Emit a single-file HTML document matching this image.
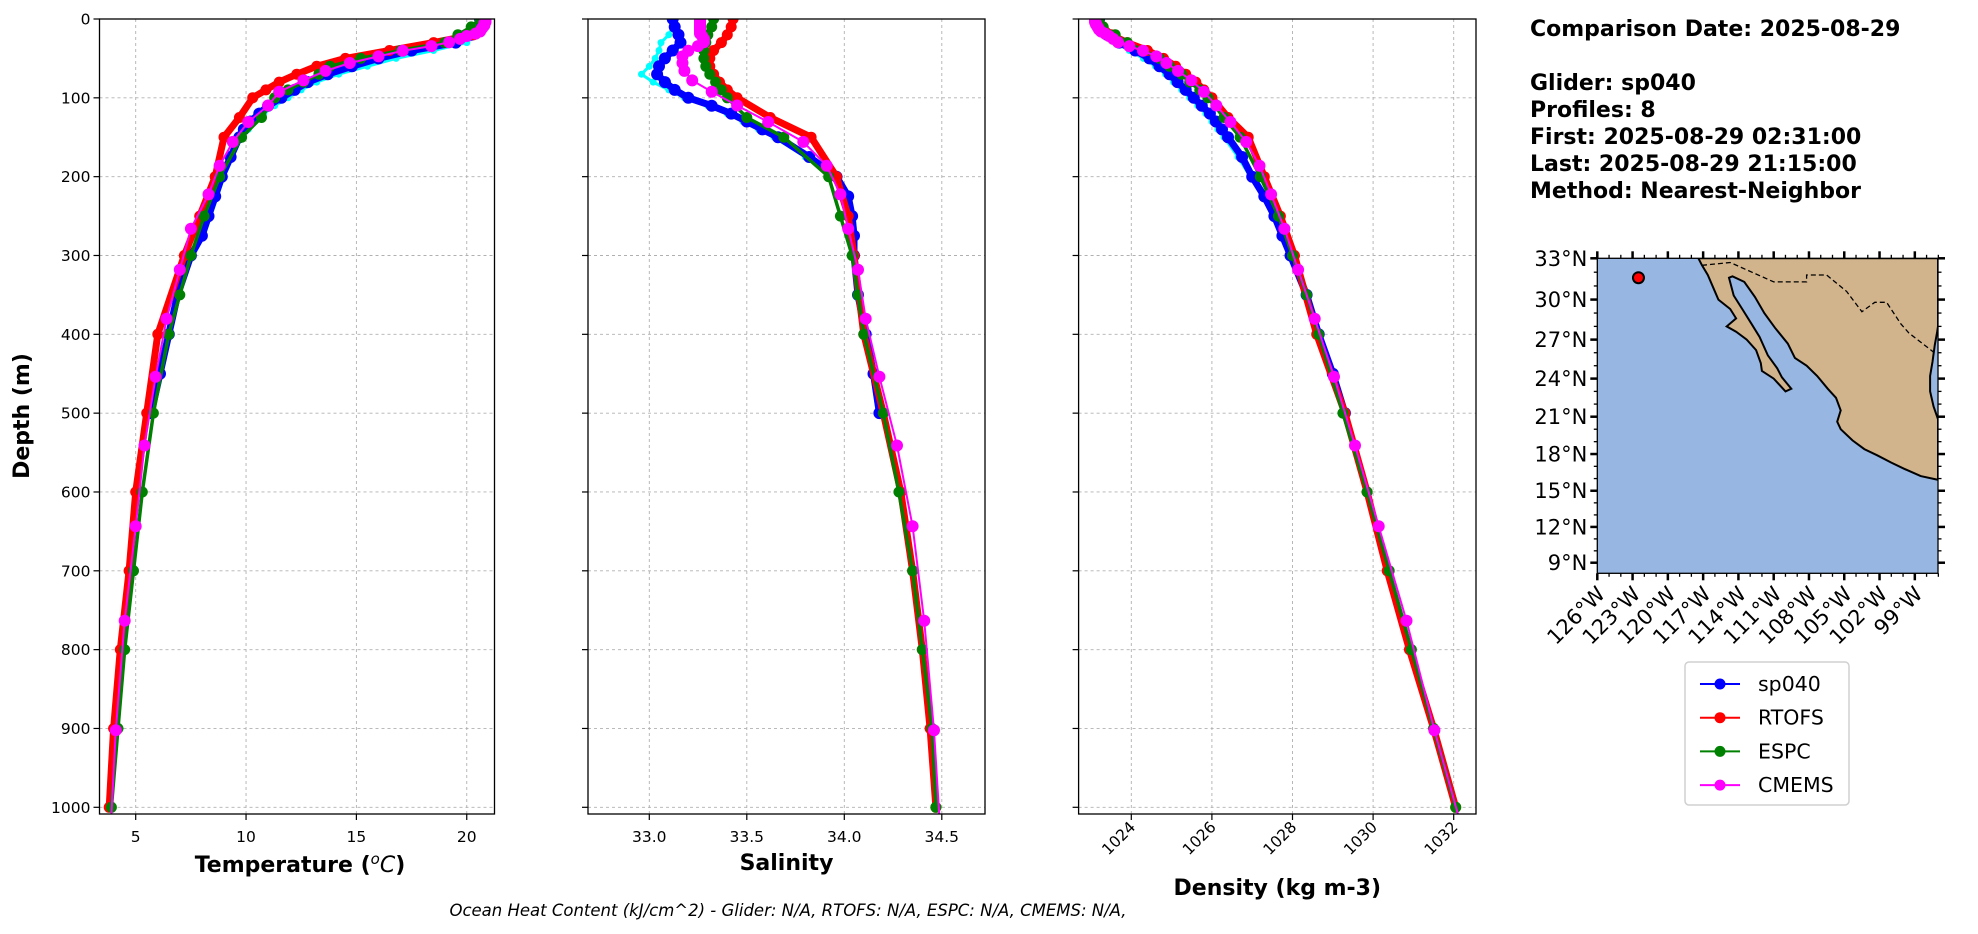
<!DOCTYPE html>
<html><head><meta charset="utf-8"><style>
html,body{margin:0;padding:0;background:#fff;}
svg{display:block;font-family:"DejaVu Sans","Liberation Sans",sans-serif;}
</style></head><body>
<svg id="fig" width="1978" height="934" viewBox="0 0 1978 934" xmlns="http://www.w3.org/2000/svg">
<defs>
<clipPath id="cT"><rect x="99.5" y="19" width="395" height="795"/></clipPath>
<clipPath id="cS"><rect x="588" y="19" width="397" height="795"/></clipPath>
<clipPath id="cD"><rect x="1078.6" y="19" width="397.4" height="795"/></clipPath>
<clipPath id="cM"><rect x="1597.3" y="258.3" width="340.7" height="315"/></clipPath>
</defs>
<g id="panels"></g>
<g id="mapg"></g>
<text x="1530" y="36" font-size="22" font-weight="bold">Comparison Date: 2025-08-29</text>
<text x="1530" y="90" font-size="22" font-weight="bold">Glider: sp040</text>
<text x="1530" y="117" font-size="22" font-weight="bold">Profiles: 8</text>
<text x="1530" y="144" font-size="22" font-weight="bold">First: 2025-08-29 02:31:00</text>
<text x="1530" y="171" font-size="22" font-weight="bold">Last: 2025-08-29 21:15:00</text>
<text x="1530" y="198" font-size="22" font-weight="bold">Method: Nearest-Neighbor</text>
<text x="788" y="916" font-size="16.5" font-style="italic" text-anchor="middle">Ocean Heat Content (kJ/cm^2) - Glider: N/A,  RTOFS: N/A,  ESPC: N/A,  CMEMS: N/A,</text>
<g>
<rect x="1685" y="662" width="164" height="143" rx="4" fill="#fff" stroke="#d0d0d0" stroke-width="1.5"/>
<g id="legItems"></g>
</g>
</svg>
<script>
// ---------- data ----------
const gliderDepths=[0,10,20,30,40,50,60,70,80,90,100,110,120,130,140,150,175,200,225,250,275,300,350,400,450,500];
const gliderTemp=[20.6,20.5,20.2,19.5,17.5,16,14.8,13.7,12.8,12.2,11.6,11.0,10.6,10.2,9.9,9.7,9.3,8.9,8.6,8.3,8.0,7.5,6.9,6.5,6.1,5.7];
const gliderSal=[33.12,33.13,33.15,33.16,33.12,33.08,33.05,33.04,33.08,33.13,33.2,33.32,33.42,33.5,33.58,33.66,33.82,33.96,34.02,34.04,34.05,34.05,34.07,34.11,34.15,34.18];
const gliderDen=[1023.2,1023.25,1023.4,1023.7,1024.1,1024.45,1024.7,1024.95,1025.15,1025.35,1025.55,1025.75,1025.95,1026.1,1026.25,1026.4,1026.75,1027.0,1027.3,1027.55,1027.75,1027.95,1028.35,1028.65,1029.0,1029.3];
const profTemp=[20.7,20.6,20.4,20.0,18.5,16.8,15.5,14.2,13.2,12.5,11.9,11.3,10.8,10.4,10.1,9.8,9.4,9.0,8.7,8.4,8.1,7.6,6.8,6.4,6.0,5.6];
const profSal=[33.13,33.12,33.1,33.06,33.05,33.03,33.0,32.96,33.02,33.1,33.18,33.3,33.4,33.48,33.56,33.64,33.8,33.94,34.02,34.05,34.06,34.06,34.06,34.1,34.14,34.17];
const profDen=[1023.2,1023.2,1023.35,1023.6,1023.95,1024.3,1024.6,1024.85,1025.05,1025.25,1025.45,1025.65,1025.85,1026.0,1026.15,1026.3,1026.65,1026.95,1027.25,1027.5,1027.72,1027.92,1028.32,1028.62,1028.97,1029.28];
const rtofsDepths=[0,10,20,30,40,50,60,70,80,90,100,125,150,200,250,300,400,500,600,700,800,900,1000];
const rtofsTemp=[20.8,20.7,20.3,18.5,16.5,14.5,13.2,12.3,11.5,10.9,10.3,9.7,9.0,8.6,7.9,7.2,6.0,5.5,5.0,4.7,4.3,4.0,3.8];
const rtofsSal=[33.43,33.42,33.4,33.37,33.33,33.31,33.31,33.33,33.36,33.4,33.45,33.62,33.83,33.96,34.02,34.05,34.1,34.2,34.29,34.35,34.4,34.44,34.47];
const rtofsDen=[1023.2,1023.3,1023.5,1023.9,1024.4,1024.8,1025.1,1025.35,1025.6,1025.8,1026.0,1026.4,1026.9,1027.3,1027.7,1028.05,1028.6,1029.3,1029.85,1030.35,1030.9,1031.5,1032.05];
const espcDepths=[0,10,20,30,40,50,60,70,80,90,100,125,150,200,250,300,350,400,500,600,700,800,900,1000];
const espcTemp=[20.6,20.2,19.6,19.0,17.0,15.2,13.8,13.3,12.6,11.9,11.3,10.7,9.8,8.8,8.1,7.5,7.0,6.5,5.8,5.3,4.9,4.5,4.2,3.9];
const espcSal=[33.33,33.32,33.3,33.29,33.28,33.28,33.29,33.31,33.34,33.37,33.40,33.5,33.69,33.92,33.98,34.04,34.07,34.1,34.2,34.28,34.35,34.4,34.45,34.47];
const espcDen=[1023.2,1023.3,1023.6,1023.9,1024.3,1024.7,1024.95,1025.25,1025.45,1025.7,1025.9,1026.3,1026.7,1027.2,1027.65,1028.0,1028.35,1028.65,1029.25,1029.85,1030.4,1030.95,1031.5,1032.05];
const cmemsDepths=[0.5,1.5,2.6,3.8,5.1,6.4,7.9,9.6,11.4,13.5,15.8,18.5,21.6,25.2,29.4,34.4,40.3,47.4,55.8,65.8,77.9,92.3,109.7,130.7,155.9,186.1,222.5,266.0,318.1,380.2,453.9,541.1,643.6,763.3,902.3,1062.4];
const cmemsTemp=[20.85,20.85,20.85,20.85,20.8,20.8,20.8,20.75,20.7,20.65,20.6,20.4,20.0,19.7,19.2,18.4,17.1,16.0,14.7,13.6,12.6,11.5,11.0,10.1,9.4,8.8,8.3,7.5,7.0,6.4,5.9,5.4,5.0,4.5,4.1,3.8];
const cmemsSal=[33.26,33.26,33.26,33.26,33.26,33.26,33.26,33.26,33.26,33.26,33.26,33.26,33.27,33.28,33.28,33.25,33.2,33.17,33.17,33.18,33.22,33.32,33.45,33.61,33.79,33.91,33.98,34.02,34.07,34.11,34.18,34.27,34.35,34.41,34.46,34.5];
const cmemsDen=[1023.1,1023.1,1023.1,1023.1,1023.12,1023.12,1023.14,1023.16,1023.18,1023.2,1023.25,1023.35,1023.45,1023.55,1023.67,1023.95,1024.29,1024.62,1024.87,1025.16,1025.49,1025.8,1026.11,1026.46,1026.85,1027.18,1027.47,1027.8,1028.14,1028.55,1029.03,1029.55,1030.14,1030.83,1031.52,1032.4];
const depthTicks=[0,100,200,300,400,500,600,700,800,900,1000];
const tempTicks=[5,10,15,20];
const salTicks=[33.0,33.5,34.0,34.5];
const denTicks=[1024,1026,1028,1030,1032];
const legendNames=["sp040","RTOFS","ESPC","CMEMS"];
const latTicks=[33,30,27,24,21,18,15,12,9];
const lonTicks=[-126,-123,-120,-117,-114,-111,-108,-105,-102,-99];
const gliderPos=[-122.5,31.6];

const NS="http://www.w3.org/2000/svg";
function mk(tag,attrs,parent){const e=document.createElementNS(NS,tag);for(const k in attrs)e.setAttribute(k,attrs[k]);if(parent)parent.appendChild(e);return e;}
const panels=document.getElementById('panels');
const yTop=19,yBot=814;
function yD(d){return yTop+(d-0)*(807.3-19)/1000;}
function linScale(v0,p0,v1,p1){return v=>p0+(v-v0)*(p1-p0)/(v1-v0);}
const xT=linScale(5,135.7,10,246.05);
const xS=linScale(33.0,649.3,34.0,844.3);
const xD=linScale(1024,1131.3,1032,1453.7);

function series(g,clip,xs,depths,vals,color,lw,r,name){
  const sg=mk('g',{'clip-path':'url(#'+clip+')'},g);
  
  
  let d='';
  for(let i=0;i<vals.length;i++){d+=(i?'L':'M')+xs(vals[i]).toFixed(1)+','+yD(depths[i]).toFixed(1);}
  const p=mk('path',{d:d,fill:'none',stroke:color,'stroke-width':lw,'stroke-linejoin':'round'},sg);
  
  
  for(let i=0;i<vals.length;i++){
    const c=mk('circle',{cx:xs(vals[i]).toFixed(1),cy:yD(depths[i]).toFixed(1),r:r,fill:color},sg);
    
    
  }
}

function panel(id,x0,x1,xs,ticks,fmt,rot,label,data,showY,labelY){
  const g=mk('g',{},panels);
  
  
  ticks.forEach(t=>{const x=xs(t);const l=mk('line',{x1:x,x2:x,y1:yTop,y2:yBot,stroke:'#b0b0b0','stroke-width':0.9,'stroke-dasharray':'3,3'},g);
    });
  depthTicks.forEach(t=>{const y=yD(t);const l=mk('line',{x1:x0,x2:x1,y1:y,y2:y,stroke:'#b0b0b0','stroke-width':0.9,'stroke-dasharray':'3,3'},g);
    });
  series(g,data.clip,xs,gliderDepths,data.prof,'#00ffff',3,3.5,'glider-profiles-'+id);
  series(g,data.clip,xs,gliderDepths,data.glider,'#0000ff',7,6,'sp040-'+id);
  series(g,data.clip,xs,rtofsDepths,data.rtofs,'#ff0000',7,5.5,'rtofs-'+id);
  series(g,data.clip,xs,espcDepths,data.espc,'#008000',3.5,5.5,'espc-'+id);
  series(g,data.clip,xs,cmemsDepths,data.cmems,'#ff00ff',2,6,'cmems-'+id);
  const fr=mk('rect',{x:x0,y:yTop,width:x1-x0,height:yBot-yTop,fill:'none',stroke:'#000','stroke-width':1.3},g);
  
  ticks.forEach(t=>{const x=xs(t);mk('line',{x1:x,x2:x,y1:yBot,y2:yBot+6,stroke:'#000','stroke-width':1.2},g);
    let tx;
    if(rot){tx=mk('text',{x:x+5,y:yBot+14,'font-size':15.5,'text-anchor':'end',transform:'rotate(-45 '+(x+5)+' '+(yBot+14)+')'},g);}
    else{tx=mk('text',{x:x,y:yBot+28,'font-size':15.5,'text-anchor':'middle'},g);}
    tx.textContent=fmt(t);
    });
  depthTicks.forEach(t=>{const y=yD(t);mk('line',{x1:x0-6,x2:x0,y1:y,y2:y,stroke:'#000','stroke-width':1.2},g);
    if(showY){const tx=mk('text',{x:x0-9,y:y+5.5,'font-size':15.5,'text-anchor':'end'},g);tx.textContent=String(t);
      }});
  const lb=mk('text',{x:(x0+x1)/2+(id==='temp'?3:0),y:labelY,'font-size':22,'font-weight':'bold','text-anchor':'middle'},g);
  
  if(id==='temp'){lb.innerHTML='Temperature (<tspan font-size="15" font-style="italic" font-weight="normal" dy="-8">o</tspan><tspan dy="8" font-style="italic" font-weight="normal">C</tspan>)';}
  else lb.textContent=label;
}
panel('temp',99.5,494.5,xT,tempTicks,t=>String(t),false,'',{clip:'cT',prof:profTemp,glider:gliderTemp,rtofs:rtofsTemp,espc:espcTemp,cmems:cmemsTemp},true,872);
panel('salinity',588,985,xS,salTicks,t=>t.toFixed(1),false,'Salinity',{clip:'cS',prof:profSal,glider:gliderSal,rtofs:rtofsSal,espc:espcSal,cmems:cmemsSal},false,870);
panel('density',1078.6,1476,xD,denTicks,t=>String(t),true,'Density (kg m-3)',{clip:'cD',prof:profDen,glider:gliderDen,rtofs:rtofsDen,espc:espcDen,cmems:cmemsDen},false,895);
const yl=mk('text',{x:0,y:0,'font-size':22,'font-weight':'bold','text-anchor':'middle',transform:'translate(29 416) rotate(-90)'},panels);
yl.textContent='Depth (m)';



// ---------- map ----------
const mg=document.getElementById('mapg');


const mL=1597.3,mR=1938,mT=258.3,mB=573.3;
function merc(l){return Math.log(Math.tan(Math.PI/4+l*Math.PI/360));}
function mx(lon){return mL+(lon+126)*11.76;}
function my(lat){return mT+672*(merc(33)-merc(lat));}
mk('rect',{x:mL,y:mT,width:mR-mL,height:mB-mT,fill:'#97b6e1'},mg);
const land=[[-117.4,33],[-117.1,32.5],[-116.6,31.8],[-116.1,30.8],[-115.7,30.0],[-114.7,29.3],[-114.2,28.6],[-115.0,28.0],[-114.2,27.6],[-113.3,27.0],[-112.5,26.2],[-112.1,25.2],[-112.0,24.6],[-111.0,24.0],[-110.0,23.0],[-109.5,23.2],[-110.3,24.1],[-110.7,24.8],[-111.5,25.8],[-112.2,27.2],[-112.9,28.2],[-113.6,29.2],[-114.4,30.3],[-114.8,31.6],[-114.5,31.7],[-113.5,31.3],[-112.6,30.2],[-111.8,29.0],[-110.9,27.9],[-109.8,26.7],[-109.2,25.6],[-108.2,25.0],[-107.3,24.2],[-106.4,23.2],[-105.7,22.5],[-105.3,21.5],[-105.6,20.6],[-105.3,20.0],[-104.3,19.1],[-103.3,18.4],[-102.2,17.9],[-101.0,17.3],[-99.9,16.8],[-98.5,16.2],[-97.03,15.9],[-97.03,20.8],[-97.4,21.8],[-97.7,23.0],[-97.7,24.2],[-97.5,25.3],[-97.3,26.6],[-97.1,27.6],[-97.03,28.0],[-97.03,33]];
let ld='';land.forEach((p,i)=>{ld+=(i?'L':'M')+mx(p[0]).toFixed(1)+','+my(p[1]).toFixed(1);});ld+='Z';
const lp=mk('path',{d:ld,fill:'#d2b48c',stroke:'#000','stroke-width':2,'clip-path':'url(#cM)'},mg);


const border=[[-117.1,32.5],[-114.7,32.7],[-111,31.3],[-108.2,31.3],[-108.2,31.8],[-106.5,31.8],[-104.8,30.6],[-103.5,29.1],[-102.4,29.8],[-101.4,29.8],[-100.2,28.2],[-99.5,27.5],[-97.2,25.9]];
let bd='';border.forEach((p,i)=>{bd+=(i?'L':'M')+mx(p[0]).toFixed(1)+','+my(p[1]).toFixed(1);});
const bp=mk('path',{d:bd,fill:'none',stroke:'#000','stroke-width':1.3,'stroke-dasharray':'5,3','clip-path':'url(#cM)'},mg);


const gm=mk('circle',{cx:mx(gliderPos[0]),cy:my(gliderPos[1]),r:5.5,fill:'#ff0000',stroke:'#000','stroke-width':2},mg);


const mf=mk('rect',{x:mL,y:mT,width:mR-mL,height:mB-mT,fill:'none',stroke:'#000','stroke-width':1.3},mg);


for(let lon=-126;lon<=-97;lon++){const x=mx(lon);const major=(lon+126)%3===0;const len=major?7:3.5;
  mk('line',{x1:x,x2:x,y1:mB,y2:mB+len,stroke:'#000','stroke-width':major?2.5:1.3},mg);
  mk('line',{x1:x,x2:x,y1:mT,y2:mT-len,stroke:'#000','stroke-width':major?2.5:1.3},mg);}
for(let lat=9;lat<=33;lat++){const y=my(lat);const major=lat%3===0;const len=major?7:3.5;
  mk('line',{x1:mL-len,x2:mL,y1:y,y2:y,stroke:'#000','stroke-width':major?2.5:1.3},mg);
  mk('line',{x1:mR,x2:mR+len,y1:y,y2:y,stroke:'#000','stroke-width':major?2.5:1.3},mg);}
latTicks.forEach(l=>{const t=mk('text',{x:mL-10,y:my(l)+7.5,'font-size':21,'text-anchor':'end'},mg);t.textContent=l+'°N';
  });
lonTicks.forEach(l=>{const x=mx(l)+9,y=mB+22;const t=mk('text',{x:x,y:y,'font-size':21,'text-anchor':'end',transform:'rotate(-45 '+x+' '+y+')'},mg);t.textContent=(-l)+'°W';
  });

// ---------- legend ----------
const lg=document.getElementById('legItems');
const legColors=['#0000ff','#ff0000','#008000','#ff00ff'];
legendNames.forEach((n,i)=>{const y=684+i*33.7;
  const it=mk('g',{},lg);
  
  
  mk('line',{x1:1700,x2:1740,y1:y,y2:y,stroke:legColors[i],'stroke-width':2},it);
  mk('circle',{cx:1720,cy:y,r:5.5,fill:legColors[i]},it);
  const t=mk('text',{x:1758,y:y+7,'font-size':20.5},it);t.textContent=n;});
</script>
</body></html>
